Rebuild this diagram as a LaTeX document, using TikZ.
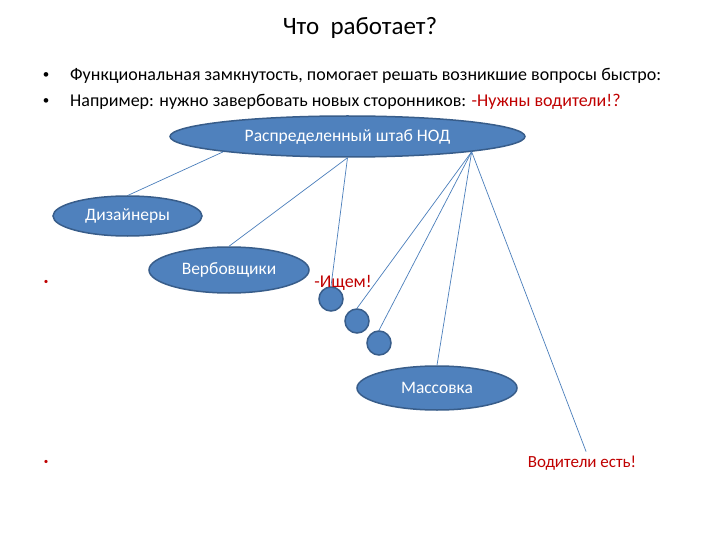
\documentclass[tikz,border=0pt]{standalone}
\usepackage{fontspec}
\setmainfont{Carlito}
\usepackage{tikz}
\usetikzlibrary{shapes.geometric}
\definecolor{cellblue}{RGB}{79,129,189}
\definecolor{rimblue}{RGB}{56,93,138}
\definecolor{wireblue}{RGB}{74,126,187}
\definecolor{alarmred}{RGB}{192,0,0}

\begin{document}
\begin{tikzpicture}[x=1pt,y=-1pt,
  cell/.style={ellipse,fill=cellblue,draw=rimblue,line width=1.5pt,inner sep=0pt,
    text=white,font=\fontsize{17.5}{20}\selectfont},
  bead/.style={circle,fill=cellblue,draw=rimblue,line width=1.5pt,minimum size=24pt,inner sep=0pt},
  wire/.style={wireblue,line width=0.7pt},
  txt/.style={font=\fontsize{18}{21}\selectfont,inner sep=0pt}]
\useasboundingbox[fill=white] (0,0) rectangle (720,540);
% title and bullets
\node[font=\fontsize{25}{30}\selectfont] (title) at (360,28) {Что\ \ работает?};
\node[txt,font=\fontsize{13}{15}\selectfont] (b1) at (46,76) {\textbullet};
\node[txt,font=\fontsize{13}{15}\selectfont] (b2) at (46,102) {\textbullet};
\node[txt,anchor=west] (t1) at (70,76) {Функциональная замкнутость, помогает решать возникшие вопросы быстро:};
\node[txt,anchor=west] (t2) at (70,102) {Например: нужно завербовать новых сторонников: \textcolor{alarmred}{-Нужны водители!?}};
\node[txt,text=alarmred,font=\fontsize{9}{11}\selectfont] (b3) at (46,282) {\textbullet};
\node[txt,text=alarmred,font=\fontsize{9}{11}\selectfont] (b4) at (46,462) {\textbullet};
% ellipses
\node[cell,minimum width=355pt,minimum height=41pt] (hq) at (347.5,136.5) {Распределенный штаб НОД};
\node[cell,minimum width=149pt,minimum height=40pt] (des) at (127.5,216) {Дизайнеры};
\node[cell,minimum width=160pt,minimum height=46pt] (rec) at (229,270) {Вербовщики};
\node[cell,minimum width=160pt,minimum height=44pt] (mass) at (437,388) {Массовка};
\node[bead] (c1) at (331,299) {};
\node[bead] (c2) at (357,321) {};
\node[bead] (c3) at (379,343) {};
\node[txt,text=alarmred] (seek) at (343,283) {-Ищем!};
\node[txt,text=alarmred,font=\fontsize{17}{20}\selectfont,inner sep=4pt] (drv) at (582,463) {Водители есть!};
% connectors
\draw[wire] (hq.187) -- (des.88);
\draw[wire] (hq.south) -- (rec.north);
\draw[wire] (hq.south) -- (c1.north);
\draw[wire] (hq.353) -- (c2.north);
\draw[wire] (hq.353) -- (c3.north);
\draw[wire] (hq.353) -- (mass.north);
\draw[wire] (hq.353) -- (drv.70);
\end{tikzpicture}
\end{document}
